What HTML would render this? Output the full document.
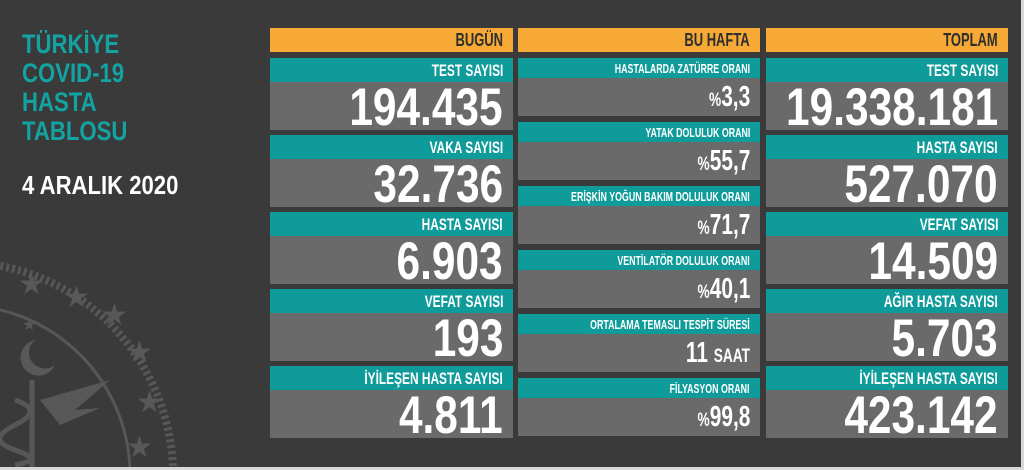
<!DOCTYPE html>
<html style="overflow:hidden"><head><meta charset="utf-8"><style>
body{margin:0;width:1024px;height:470px;background:#d8d8d8;overflow:hidden;font-family:"Liberation Sans",sans-serif;position:relative}
#bg{position:absolute;left:0;top:0;width:1021px;height:467px;background:#3a3a3a;overflow:hidden}
.b{position:absolute;overflow:hidden}
.h{background:#f6a935;color:#2e2e2e;font-weight:bold;font-size:18px}
.t{background:#0f9b9a;color:#fff;font-weight:bold}
.g{background:#6a6a6a;color:#fff;font-weight:bold}
.tx{position:absolute;right:10px;white-space:nowrap;transform:scaleX(0.72);transform-origin:right center}
.title{position:absolute;left:22px;color:#14a3a3;font-weight:bold;font-size:27px;line-height:29px;transform:scaleX(0.82);transform-origin:left top}
</style></head><body>
<div id="bg">
<svg width="300" height="467" style="position:absolute;left:0;top:0" fill="none" stroke="#575757">
<circle cx="-40" cy="475" r="213" stroke-width="8" stroke-dasharray="3 3"/>
<circle cx="-40" cy="475" r="170" stroke-width="3"/>
<g fill="#585858" stroke="none" font-size="30" font-family="DejaVu Sans">
<text x="18" y="294">★</text><text x="63" y="307">★</text><text x="101" y="325">★</text><text x="126" y="362">★</text><text x="136" y="412">★</text><text x="126" y="457">★</text><text x="22" y="330" font-size="16">★</text>
</g>
<path d="M35 340a18 18 0 1 0 20 25a14 14 0 1 1-20-25z" fill="#585858" stroke="none"/>
<path d="M40 400 L110 380 L75 410 L100 408 L60 425 Z" fill="#585858" stroke="none"/>
<line x1="32" y1="380" x2="32" y2="467" stroke-width="5"/>
<path d="M15 400 q30 10 0 25 q-30 15 0 25 q30 10 0 15" stroke-width="5"/>
</svg>
<div class="title" style="top:30px">TÜRKİYE<br>COVID-19<br>HASTA<br>TABLOSU</div>
<div class="title" style="top:171px;color:#fff;font-size:26px;transform:scaleX(0.85)">4 ARALIK 2020</div>

<div class="b h" style="left:270px;top:28px;width:243px;height:24px"><span class="tx" style="top:2px">BUGÜN</span></div>
<div class="b h" style="left:518px;top:28px;width:242px;height:24px"><span class="tx" style="top:2px">BU HAFTA</span></div>
<div class="b h" style="left:766px;top:28px;width:242px;height:24px"><span class="tx" style="top:2px">TOPLAM</span></div>
<div id="c"></div>
</div>
<script>
var h='';
function big(x,w,items){items.forEach(function(it,i){var y=58+i*77;
h+='<div class="b t" style="left:'+x+'px;top:'+y+'px;width:'+w+'px;height:24px;font-size:17px"><span class="tx" style="top:3px;transform:scaleX(0.7)">'+it[0]+'</span></div>'+
'<div class="b g" style="left:'+x+'px;top:'+(y+24)+'px;width:'+w+'px;height:48px;font-size:53px"><span class="tx" style="top:-5px;transform:scaleX(0.8)">'+it[1]+'</span></div>';});}
function small(x,w,items){items.forEach(function(it,i){var y=58+i*64;
h+='<div class="b t" style="left:'+x+'px;top:'+y+'px;width:'+w+'px;height:20px;font-size:13px"><span class="tx" style="top:3px;transform:scaleX(0.68)">'+it[0]+'</span></div>'+
'<div class="b g" style="left:'+x+'px;top:'+(y+20)+'px;width:'+w+'px;height:38px;font-size:29px"><span class="tx" style="top:3px">'+it[1]+'</span></div>';});}
var p="<small style='font-size:19px'>%</small>";
big(270,243,[["TEST SAYISI","194.435"],["VAKA SAYISI","32.736"],["HASTA SAYISI","6.903"],["VEFAT SAYISI","193"],["İYİLEŞEN HASTA SAYISI","4.811"]]);
small(518,242,[["HASTALARDA ZATÜRRE ORANI",p+"3,3"],["YATAK DOLULUK ORANI",p+"55,7"],["ERİŞKİN YOĞUN BAKIM DOLULUK ORANI",p+"71,7"],["VENTİLATÖR DOLULUK ORANI",p+"40,1"],["ORTALAMA TEMASLI TESPİT SÜRESİ","11 <small style='font-size:19px'>SAAT</small>"],["FİLYASYON ORANI",p+"99,8"]]);
big(766,242,[["TEST SAYISI","19.338.181"],["HASTA SAYISI","527.070"],["VEFAT SAYISI","14.509"],["AĞIR HASTA SAYISI","5.703"],["İYİLEŞEN HASTA SAYISI","423.142"]]);
document.getElementById('c').innerHTML=h;
</script>
</body></html>
